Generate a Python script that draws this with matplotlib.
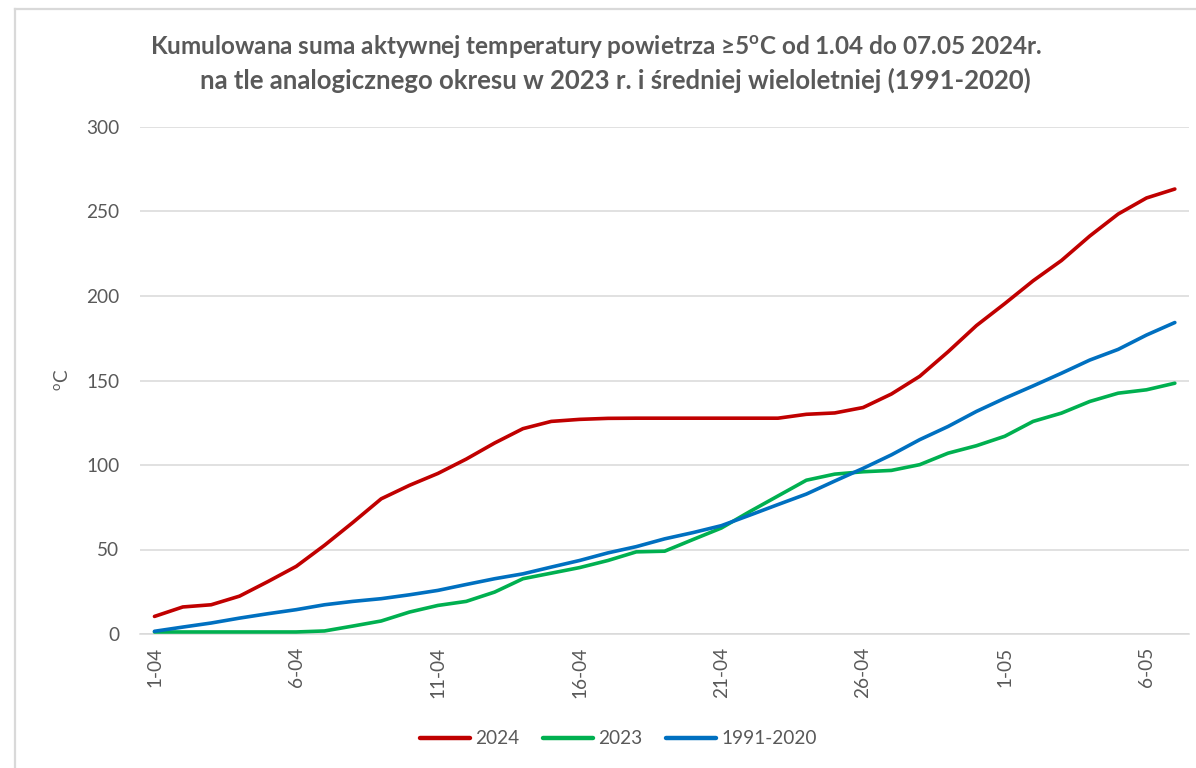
import matplotlib
matplotlib.use("Agg")
import matplotlib.pyplot as plt
from matplotlib.lines import Line2D

# ---- data ----
dates = [f"{d}-04" for d in range(1, 31)] + [f"{d}-05" for d in range(1, 8)]
s2024 = [10.4, 16, 17.3, 22.4, 31, 40, 52.5, 66, 80, 88, 95, 103.5, 113, 121.5, 125.8,
         127, 127.6, 127.7, 127.7, 127.7, 127.7, 127.7, 127.7, 130, 130.8, 134, 142,
         152.5, 167, 182.5, 195.5, 209, 221, 235.5, 248.5, 258, 263.3]
s2023 = [1.2, 1.2, 1.2, 1.2, 1.2, 1.2, 1.8, 4.7, 7.7, 13, 16.9, 19.3, 24.8, 32.7, 36,
         39.3, 43.5, 48.6, 49, 55.9, 62.7, 72.4, 81.7, 91, 94.6, 96, 96.8, 100.2, 107,
         111.4, 117, 125.8, 130.7, 137.6, 142.5, 144.5, 148.4]
s_norm = [1.6, 4.1, 6.5, 9.4, 12, 14.4, 17.3, 19.3, 20.9, 23.2, 25.8, 29.3, 32.7, 35.6,
          39.6, 43.5, 48, 51.7, 56.3, 60, 64.1, 70.3, 76.6, 82.8, 90.5, 98, 106, 115,
          122.8, 131.7, 139.5, 146.8, 154.3, 162.1, 168.4, 176.9, 184.3]
series_names = ["2024", "2023", "1991-2020"]
colors = ["#C00000", "#00B050", "#0070C0"]
yticks = [0, 50, 100, 150, 200, 250, 300]
title1 = "Kumulowana suma aktywnej temperatury powietrza \u22655$^{\\mathbf{o}}$C od 1.04 do 07.05 2024r."
title2 = "na tle analogicznego okresu w 2023 r. i \u015bredniej wieloletniej (1991-2020)"

FAM = ["Lato", "DejaVu Sans"]
plt.rcParams["font.family"] = FAM
plt.rcParams["mathtext.fontset"] = "custom"
plt.rcParams["mathtext.rm"] = "Lato"
plt.rcParams["mathtext.bf"] = "Lato:bold"
TXT = "#595959"
GRID = "#D9D9D9"

W, H = 1196, 768
fig = plt.figure(figsize=(W / 100, H / 100), dpi=100)
fig.patch.set_facecolor("white")

# chart-area border (left and top visible)
fig.add_artist(Line2D([15 / W, 15 / W], [0, 1 - 9 / H], color="#D9D9D9", lw=1.6,
                      transform=fig.transFigure))
fig.add_artist(Line2D([15 / W, 1], [1 - 9 / H, 1 - 9 / H], color="#D9D9D9", lw=1.6,
                      transform=fig.transFigure))

left, right = 140.3, 1189
top, bottom = 127, 634
ax = fig.add_axes([left / W, 1 - bottom / H, (right - left) / W, (bottom - top) / H])

x = list(range(len(dates)))
for vals, name, c in zip([s2024, s2023, s_norm], series_names, colors):
    ax.plot(x, vals, color=c, lw=2.6, solid_capstyle="round", solid_joinstyle="round",
            label=name, zorder=3)

ax.set_xlim(-0.5, len(dates) - 0.5)
ax.set_ylim(0, 300)
ax.set_yticks(yticks)
ax.set_yticklabels([str(v) for v in yticks])
ax.yaxis.grid(True, color=GRID, lw=1.1)
ax.set_axisbelow(True)
for sp in ["top", "right", "left"]:
    ax.spines[sp].set_visible(False)
ax.spines["bottom"].set_color(GRID)
ax.spines["bottom"].set_linewidth(1.1)

tick_pos = x[::5]
ax.set_xticks(tick_pos)
ax.set_xticklabels([dates[i] for i in tick_pos], rotation=90, va="top", ha="center")
ax.tick_params(axis="x", length=0, pad=9, labelsize=13.7, labelcolor=TXT)
ax.tick_params(axis="y", length=0, pad=15, labelsize=13.7, labelcolor=TXT)

fig.text(63 / W, 1 - 380 / H, "$^{\\mathrm{o}}$C", rotation=90, ha="center", va="center",
         fontsize=13.7, color=TXT)

# titles, fitted to measured widths
renderer = fig.canvas.get_renderer()
def fitted_title(txt, xl, xr, yc):
    t = fig.text((xl + xr) / 2 / W, 1 - yc / H, txt, ha="center", va="center",
                 fontsize=16, fontweight="bold", color=TXT)
    w = t.get_window_extent(renderer).width
    t.set_fontsize(16 * (xr - xl) / w)
    return t

fitted_title(title1, 149, 1044, 47)
fitted_title(title2, 198, 1032, 80)

handles, labels = ax.get_legend_handles_labels()
leg = fig.legend(handles, labels, loc="center", bbox_to_anchor=(618.5 / W, 1 - 739 / H),
                 ncol=3, frameon=False, fontsize=13.7, handlelength=2.6,
                 handletextpad=0.3, columnspacing=1.25, borderpad=0)
for t in leg.get_texts():
    t.set_color(TXT)
for h in leg.legend_handles:
    h.set_linewidth(3.2)

fig.savefig("out.png", dpi=100, facecolor="white")
